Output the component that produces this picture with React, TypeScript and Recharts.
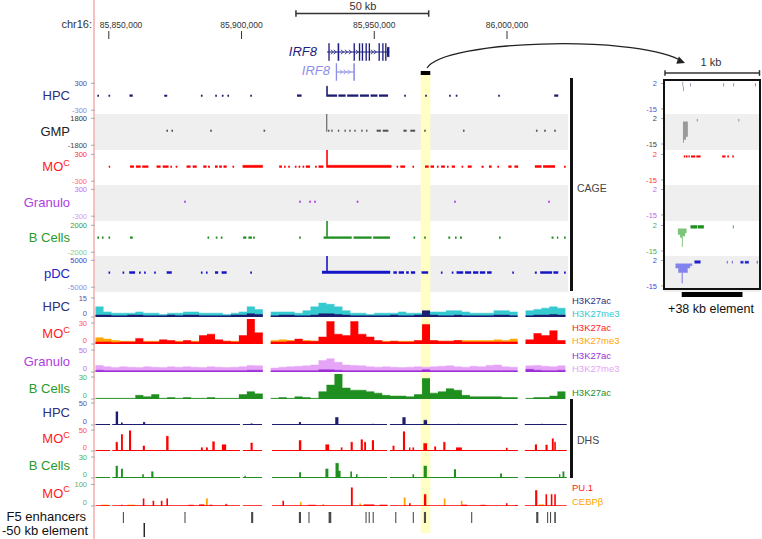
import React from "react";
import { ComposedChart, Area, Line, Scatter, XAxis, YAxis, ReferenceLine, ReferenceArea } from "recharts";

const FONT = "'Liberation Sans', Arial, Helvetica, sans-serif";

// chr16 window on screen, in kb
const WINDOW = [85844.8, 86022.6];
const RULER_TICKS = [85850, 85900, 85950, 86000];
const SCALE_BAR_KB = [85920.5, 85970.5];
const ELEMENT_KB = [85967.5, 85971.1];

// gene models (kb)
const IRF8_TX = [85932.2, 85955.6];
const IRF8_EXONS = [[85932.7, 85933.2, 1], [85936.2, 85936.8, 1], [85942.2, 85942.7, 1], [85944.2, 85944.7, 1], [85945.3, 85945.8, 1], [85946.7, 85947.2, 1], [85947.9, 85948.4, 1], [85951.6, 85952.1, 1], [85953.0, 85953.5, 1], [85954.1, 85954.6, 1], [85954.8, 85955.7, 0.55]];
const IRF8_CHEVRONS = [85934.1, 85935.2, 85937.9, 85939.4, 85940.9, 85943.5, 85949.2, 85950.3];
const IRF8B_TX = [85935.6, 85942.7];
const IRF8B_EXONS = [[85935.5, 85936.0, 1], [85942.1, 85942.7, 1]];
const IRF8B_CHEVRONS = [85937.5, 85939.0, 85940.5];

// CAGE runs: [start kb, end kb, tags]
const CAGE_MAX = [300, 1800, 300, 300, 2000, 5000];
const CAGE_HPC = [[85845.7, 85846.3, 40], [85849.9, 85850.5, 40], [85857.8, 85859.0, 45], [85870.9, 85872.0, 40], [85884.7, 85885.3, 40], [85890.1, 85890.7, 40], [85892.6, 85893.2, 40], [85894.7, 85895.3, 40], [85903.3, 85903.9, 40], [85920.9, 85922.6, 45], [85931.9, 85932.5, 235], [85932.5, 85936.0, 45], [85936.5, 85939.2, 45], [85939.8, 85944.0, 45], [85944.6, 85948.0, 45], [85948.6, 85951.2, 45], [85951.8, 85955.2, 45], [85961.3, 85961.9, 40], [85969.2, 85969.8, 40], [85978.2, 85978.8, 40], [85980.7, 85981.3, 40], [85996.7, 85997.3, 40], [86017.8, 86019.3, 45]];
const CAGE_GMP = [[85871.7, 85872.3, 250], [85873.6, 85874.2, 250], [85888.2, 85888.8, 250], [85908.3, 85908.9, 250], [85931.9, 85932.3, 2400], [85932.6, 85933.1, 250], [85933.8, 85934.3, 250], [85936.3, 85936.8, 250], [85938.8, 85939.3, 250], [85940.6, 85941.1, 250], [85942.5, 85943.0, 250], [85945.1, 85945.6, 250], [85946.9, 85947.4, 250], [85950.9, 85952.5, 250], [85953.2, 85955.3, 250], [85961.0, 85962.2, 250], [85963.6, 85965.4, 250], [85968.8, 85969.4, 250], [85983.4, 85984.0, 250], [86010.9, 86011.5, 250], [86014.0, 86014.6, 250], [86017.8, 86018.4, 250]];
const CAGE_MO = [[85850.0, 85850.5, 40], [85858.0, 85859.5, 45], [85860.2, 85862.0, 45], [85862.6, 85864.9, 45], [85868.0, 85869.5, 45], [85870.3, 85872.5, 45], [85873.2, 85873.8, 40], [85875.2, 85875.8, 40], [85879.3, 85880.8, 45], [85881.6, 85883.1, 45], [85885.6, 85886.8, 45], [85887.4, 85888.1, 40], [85890.0, 85891.0, 45], [85891.6, 85892.6, 45], [85893.2, 85894.4, 45], [85896.6, 85897.2, 40], [85900.4, 85908.0, 55], [85914.2, 85915.2, 45], [85916.0, 85916.6, 40], [85917.6, 85918.2, 40], [85920.1, 85920.7, 40], [85921.5, 85922.1, 40], [85923.0, 85923.6, 40], [85924.2, 85925.8, 45], [85927.7, 85928.3, 40], [85929.0, 85930.8, 45], [85931.9, 85932.5, 400], [85932.5, 85956.5, 55], [85958.4, 85959.0, 40], [85959.8, 85961.6, 45], [85964.4, 85965.0, 40], [85969.1, 85970.5, 45], [85971.2, 85972.5, 45], [85973.6, 85974.2, 40], [85975.2, 85976.6, 45], [85977.4, 85978.0, 40], [85979.2, 85980.4, 45], [85982.9, 85983.5, 40], [85985.2, 85986.7, 45], [85990.4, 85991.2, 40], [85993.2, 85994.2, 45], [85996.4, 85997.0, 40], [86000.5, 86001.7, 45], [86002.8, 86004.2, 45], [86010.5, 86013.0, 50], [86013.6, 86018.1, 50], [86021.5, 86022.1, 40]];
const CAGE_GRAN = [[85878.4, 85879.0, 40], [85921.7, 85922.3, 40], [85925.5, 85926.1, 40], [85927.4, 85928.0, 40], [85943.4, 85944.0, 40], [85980.1, 85980.7, 40], [86015.5, 86016.1, 40]];
const CAGE_B = [[85845.7, 85846.3, 280], [85847.4, 85848.0, 280], [85849.9, 85850.5, 280], [85858.0, 85859.0, 300], [85887.2, 85887.8, 280], [85890.3, 85890.9, 280], [85892.2, 85892.8, 280], [85900.6, 85901.8, 300], [85902.6, 85903.9, 300], [85904.4, 85905.0, 280], [85921.7, 85922.3, 280], [85930.9, 85931.9, 300], [85931.9, 85932.5, 2700], [85932.5, 85941.5, 300], [85942.2, 85949.0, 300], [85949.6, 85955.9, 300], [85964.8, 85965.4, 280], [85968.8, 85969.4, 280], [85977.9, 85978.6, 280], [85980.4, 85981.0, 280], [85982.3, 85983.0, 280], [85997.0, 85997.6, 280], [86016.8, 86017.5, 280], [86018.8, 86019.3, 280], [86021.5, 86022.1, 280]];
const CAGE_PDC = [[85849.9, 85850.5, 700], [85855.2, 85855.8, 700], [85857.7, 85859.9, 800], [85861.4, 85862.0, 700], [85863.3, 85863.9, 700], [85867.1, 85867.7, 700], [85871.8, 85873.7, 800], [85884.7, 85885.3, 700], [85886.6, 85887.2, 700], [85890.0, 85891.2, 800], [85892.5, 85894.4, 800], [85903.3, 85903.9, 700], [85930.3, 85931.9, 1000], [85931.9, 85932.5, 6700], [85932.5, 85956.0, 1000], [85957.2, 85958.5, 800], [85959.2, 85961.2, 800], [85962.0, 85963.0, 800], [85963.8, 85965.4, 800], [85967.8, 85970.3, 800], [85975.1, 85975.7, 700], [85979.2, 85979.8, 700], [85981.0, 85983.5, 800], [85984.2, 85986.5, 800], [85987.2, 85989.2, 800], [85989.8, 85991.8, 800], [85992.5, 85994.2, 800], [86002.0, 86002.6, 700], [86010.5, 86011.2, 700], [86012.5, 86017.0, 800], [86017.5, 86019.3, 800], [86021.5, 86022.1, 700]];

// histone ChIP, 3 kb bins from 85,845 kb (null = no data)
const BIN_START = 85845;
const BIN_KB = 3;
const HPC_ME3 = [8, 4, 3, 3, 3, 4, 3, 3, 2, 3, 3, 4, 4, 3, 3, 3, 2, 3, 4, 8, 6, null, 4, 4, 4, 3, 5, 8, 11, 10, 8, 5, 3, 3, 2, 3, 3, 3, 4, 3, 3, 4, 4, 4, 5, 5, 4, 3, 3, 3, 5, 5, 4, null, 5, 6, 7, 8, 7];
const HPC_AC = [1.5, 1.5, 1, 1, 1.5, 1.5, 1, 1, 1, 1.5, 1, 1.5, 1.5, 1, 1, 1, 1, 1.5, 1.5, 2.5, 2, null, 1, 1.5, 1.5, 1, 1, 1.5, 2.5, 2.5, 2, 1.5, 1, 1, 1, 1, 1, 1.5, 1, 1, 1.5, 5, 1.5, 1, 1, 1.5, 1, 1, 1, 1, 1.5, 1.5, 1, null, 1, 1.5, 1.5, 2, 1.5];
const MO_ME3 = [9, 7, 5, 4, 4, 4, 4, 4, 4, 4, 4, 4, 4, 4, 4, 4, 4, 4, 4, 4, 4, null, 5, 6, 5, 5, 5, 4, 4, 4, 4, 4, 4, 4, 4, 4, 4, 4, 4, 4, 4, 4, 4, 4, 4, 5, 5, 5, 5, 5, 6, 5, 7, null, 4, 4, 4, 4, 4];
const MO_AC = [3, 3, 2, 3, 3, 8, 3, 3, 6, 5, 3, 5, 3, 12, 14, 6, 4, 3, 12, 38, 16, null, 3, 3, 4, 7, 4, 4, 10, 32, 14, 12, 32, 14, 10, 5, 3, 4, 3, 3, 5, 28, 5, 4, 4, 5, 3, 3, 3, 3, 3, 3, 3, null, 6, 15, 12, 19, 5];
const GRAN_ME3 = [15, 12, 10, 12, 11, 10, 12, 11, 10, 12, 11, 12, 11, 10, 12, 11, 10, 11, 12, 15, 14, null, 9, 11, 12, 13, 14, 16, 26, 30, 22, 16, 15, 14, 12, 11, 12, 11, 10, 11, 12, 11, 12, 13, 14, 12, 11, 13, 12, 15, 16, 12, 11, null, 14, 15, 13, 12, 14];
const GRAN_AC = [4, 3, 3, 3, 3, 3, 3, 3, 3, 3, 3, 3, 3, 3, 3, 3, 3, 3, 3, 4, 4, null, 3, 3, 3, 3, 3, 3, 5, 5, 4, 3, 3, 3, 3, 3, 3, 3, 3, 3, 3, 5, 3, 3, 3, 3, 3, 3, 3, 3, 3, 3, 3, null, 6, 4, 3, 3, 4];
const B_AC = [1, 1, 1, 1, 1, 5, 3, 6, 1, 2, 1, 2, 1, 1, 2, 1, 1, 1, 6, 10, 7, null, 1, 2, 1, 3, 2, 1, 10, 19, 38, 15, 12, 12, 10, 8, 5, 4, 4, 3, 6, 28, 8, 10, 14, 12, 5, 3, 3, 3, 3, 2, 2, null, 1, 2, 2, 4, 10];

// DHS / TF peaks: [start kb, end kb, signal]
const COVERED = [[85845.0, 85850.5], [85851.3, 85899.4], [85900.5, 85907.7], [85911.5, 85954.8], [85955.9, 86004.1], [86006.7, 86022.5]];
const DHS_HPC = [[85852.6, 85853.5, 30], [85854.6, 85855.2, 5], [85862.9, 85863.7, 6], [85903.5, 85904.1, 3], [85921.6, 85922.4, 6], [85935.3, 85936.5, 17], [85949.2, 85949.8, 2], [85960.6, 85961.8, 17], [85968.6, 85969.9, 11], [85981.5, 85982.0, 2], [86003.0, 86003.5, 2], [86013.0, 86013.5, 2]];
const DHS_MO = [[85852.6, 85853.4, 21], [85854.6, 85855.3, 39], [85857.6, 85858.4, 48], [85862.8, 85863.6, 12], [85871.6, 85872.5, 35], [85884.7, 85885.4, 8], [85886.6, 85887.3, 8], [85889.0, 85889.9, 22], [85892.6, 85894.2, 15], [85903.4, 85904.2, 19], [85921.6, 85922.5, 25], [85931.6, 85933.0, 15], [85937.4, 85938.0, 8], [85941.1, 85941.9, 21], [85944.9, 85945.7, 27], [85946.2, 85946.9, 21], [85949.1, 85949.9, 25], [85956.9, 85957.6, 12], [85960.8, 85961.6, 46], [85963.1, 85963.6, 8], [85964.4, 85965.0, 8], [85968.5, 85969.9, 18], [85972.6, 85973.3, 10], [85976.0, 85976.8, 21], [85980.8, 85983.0, 8], [85999.6, 86000.2, 7], [86010.5, 86011.3, 15], [86014.5, 86015.3, 14], [86016.9, 86017.6, 29], [86017.8, 86018.4, 21]];
const DHS_B = [[85852.6, 85853.4, 17], [85854.6, 85855.3, 13], [85862.6, 85863.2, 5], [85866.0, 85866.8, 9], [85901.1, 85901.6, 3], [85921.7, 85922.4, 8], [85931.6, 85932.7, 13], [85935.4, 85936.6, 21], [85936.6, 85937.3, 10], [85941.0, 85941.6, 9], [85943.1, 85943.7, 5], [85964.4, 85965.0, 5], [85968.6, 85969.8, 17], [85980.0, 85980.8, 12], [85997.4, 85998.1, 6], [86019.6, 86020.1, 5], [86020.9, 86021.6, 9]];
const PU1_MO = [[85854.7, 85855.2, 5], [85862.8, 85863.4, 34], [85866.5, 85867.1, 23], [85869.6, 85870.2, 23], [85871.7, 85872.3, 34], [85880.0, 85882.0, 4], [85884.0, 85886.0, 6], [85888.0, 85889.0, 5], [85893.9, 85894.6, 8], [85915.4, 85916.0, 23], [85925.0, 85928.0, 4], [85941.2, 85941.9, 85], [85946.0, 85950.0, 6], [85952.0, 85955.0, 5], [85963.1, 85963.7, 12], [85968.7, 85969.6, 54], [85983.0, 85985.0, 5], [85990.0, 85992.0, 4], [85999.6, 86000.2, 12], [86003.0, 86004.0, 3], [86010.6, 86011.4, 72], [86014.5, 86015.1, 54], [86016.5, 86017.1, 54], [86017.8, 86018.4, 54]];
const CEBPB_MO = [[85847.0, 85850.0, 5], [85857.0, 85860.0, 5], [85886.6, 85887.3, 34], [85922.0, 85922.6, 18], [85930.5, 85931.1, 8], [85944.4, 85945.0, 10], [85961.1, 85961.8, 38], [85976.2, 85976.8, 34], [85982.6, 85983.2, 23], [86012.0, 86014.0, 6]];

const F5_ENHANCERS = [[85855.3, 85855.7], [85878.5, 85878.9], [85903.6, 85904.4], [85921.6, 85922.4], [85925.2, 85925.6], [85932.8, 85933.8], [85946.7, 85947.1], [85947.9, 85948.3], [85949.4, 85949.8], [85957.9, 85958.3], [85964.5, 85964.9], [85968.7, 85969.5], [85986.5, 85986.9], [86011.0, 86011.8], [86015.1, 86015.5], [86016.2, 86016.6], [86017.8, 86018.4]];
const MINUS50_ELEMENT = [[85863.1, 85863.6]];

// +38 kb element close-up, bp within 1 kb
const INSET_DOMAIN = [0, 1000];
const INSET_BAR = [177, 820];
const INSET_HPC = [[186, 192, 3], [192, 198, -3], [266, 273, 2], [618, 625, 2], [724, 731, 2], [952, 960, 2]];
const INSET_GMP = [[190, 200, -14], [200, 222, -12], [222, 242, -10], [337, 344, 1.5], [778, 785, 1.5]];
const INSET_MO = [[199, 215, 1.2], [222, 238, 1.2], [248, 262, 1.2], [275, 320, 1.2], [332, 376, 1.2], [605, 640, 1.2], [660, 676, 1.2], [712, 728, 1.2]];
const INSET_GRAN: number[][] = [];
const INSET_B = [[136, 160, -4], [160, 178, -6], [178, 188, -12], [188, 212, -5], [212, 228, -3], [270, 340, 2], [346, 411, 2], [718, 726, 2]];
const INSET_PDC = [[111, 140, -3], [140, 176, -6], [176, 188, -13], [188, 240, -6], [240, 265, -3], [265, 288, -1.5], [312, 376, 1.8], [655, 662, 1.5], [708, 715, 1.5], [799, 830, 1.5], [845, 887, 1.5], [972, 980, 1.5]];

// ---------- layout ----------
const PLOT_LEFT = 95;
const PLOT_W = 472;
const INSET_LEFT = 664.5;
const INSET_W = 94.5;
const CAGE_TOP = 78.5;
const CAGE_H = 35.5;
const TRACK_H = 25;

function runRows(runs: number[][], key: string, sign = 0) {
  const rows: any[] = [];
  runs.forEach(([s, e, v = 1]) => {
    if (sign > 0 && v < 0) return;
    if (sign < 0 && v >= 0) return;
    rows.push({ pos: s, [key]: v }, { pos: e, [key]: v }, { pos: e, [key]: null });
  });
  return rows;
}

// each 3 kb bin becomes one block
function binRuns(values: (number | null)[]) {
  const runs: number[][] = [];
  values.forEach((v, i) => {
    if (v != null) runs.push([BIN_START + BIN_KB * i, BIN_START + BIN_KB * (i + 1), v]);
  });
  return runs;
}

const frameRows = (d: number[]) => [{ pos: d[0] }, { pos: d[1] }];
const fmtBp = (v: number) => Math.round(v * 1000).toLocaleString("en-US");

function tickRenderer(colors: Record<string, string>, size = 7.5, zeroLift = 0) {
  return (props: any) => {
    const { x, y, payload } = props;
    const lift = payload.value === 0 ? zeroLift : 0;
    return (
      <text x={x} y={y - lift} dy={size * 0.35} textAnchor="end" fontSize={size} fontFamily={FONT} fill={colors[String(payload.value)] || "#555"}>
        {payload.value}
      </text>
    );
  };
}

function rulerTick(props: any) {
  const { x, y, payload } = props;
  const first = payload.value === RULER_TICKS[0];
  return (
    <text x={first ? x - 9 : x} y={y} textAnchor={first ? "start" : "middle"} fontSize={8.5} fill="#333" fontFamily={FONT}>
      {fmtBp(payload.value)}
    </text>
  );
}

function Chart(props: any) {
  const { left, top, width, height, padBottom = 0, xDomain = WINDOW, yDomain = [0, 1], ticks, tickColors = {}, yw = 40, data, children, margin = 0, zeroLift = 0 } = props;
  const w = ticks ? yw : 0;
  return (
    <div style={{ position: "absolute", left: left - w - margin, top }}>
      <ComposedChart width={w + width + 2 * margin} height={height + padBottom} data={data || frameRows(xDomain)} margin={{ top: 0, right: margin, bottom: padBottom, left: margin }}>
        <XAxis type="number" dataKey="pos" domain={xDomain} allowDataOverflow hide />
        {ticks ? (
          <YAxis type="number" domain={yDomain} allowDataOverflow ticks={ticks} interval={0} width={yw} axisLine={false} tickLine={{ stroke: "#aaa" }} tickSize={4} tickMargin={4} tick={tickRenderer(tickColors, 7.5, zeroLift)} />
        ) : (
          <YAxis type="number" domain={yDomain} allowDataOverflow hide />
        )}
        {children}
      </ComposedChart>
    </div>
  );
}

function Label({ x, y, text, color = "#222", size = 13, align = "right", sup, italic }: any) {
  const style: any = {
    position: "absolute",
    top: y - size * 0.6,
    fontSize: size,
    lineHeight: `${size * 1.2}px`,
    color,
    whiteSpace: "nowrap",
    fontFamily: FONT,
    fontStyle: italic ? "italic" : "normal",
  };
  if (align === "right") style.right = 762 - x;
  else if (align === "center") {
    style.left = x;
    style.transform = "translateX(-50%)";
  } else style.left = x;
  return (
    <div style={style}>
      {text}
      {sup ? <span style={{ fontSize: size * 0.72, position: "relative", top: -size * 0.42 }}>{sup}</span> : null}
    </div>
  );
}

const area = (key: string, fill: string) => (
  <Area key={key} dataKey={key} type="linear" fill={fill} fillOpacity={1} stroke={fill} strokeWidth={0.5} baseValue={0} dot={false} activeDot={false} isAnimationActive={false} />
);

const baseline = (key: string, color: string) => (
  <Line key={key} dataKey={key} type="linear" stroke={color} strokeWidth={1.5} dot={false} activeDot={false} isAnimationActive={false} />
);

const CAGE_TRACKS = [
  { label: "HPC", color: "#2e2e7e", fill: "#1c1c70", runs: CAGE_HPC, tick: ["#4a4a9e", "#8a8ad6"] },
  { label: "GMP", color: "#222", fill: "#555", runs: CAGE_GMP, tick: ["#333", "#444"] },
  { label: "MO", sup: "C", color: "#ff1a1a", fill: "#ff0000", runs: CAGE_MO, tick: ["#ff3333", "#ff6b6b"] },
  { label: "Granulo", color: "#b03de0", fill: "#b030e8", runs: CAGE_GRAN, tick: ["#c070f0", "#d49af2"] },
  { label: "B Cells", color: "#2a9a2a", fill: "#1f8f1f", runs: CAGE_B, tick: ["#3a9a3a", "#86cc86"] },
  { label: "pDC", color: "#2323c8", fill: "#1515c8", runs: CAGE_PDC, tick: ["#4040cc", "#8c8ce6"] },
];

const HIST_TRACKS = [
  { label: "HPC", color: "#2e2e7e", y0: 317, ytick: 298, max: 15, tick: "#5555a5", series: [{ bins: HPC_ME3, fill: "#35c9d0" }, { bins: HPC_AC, fill: "#1c1c70" }] },
  { label: "MO", sup: "C", color: "#ff1a1a", y0: 344, ytick: 323, max: 30, tick: "#ff5050", series: [{ bins: MO_ME3, fill: "#ffa500" }, { bins: MO_AC, fill: "#ff0000" }] },
  { label: "Granulo", color: "#b03de0", y0: 372, ytick: 350, max: 50, tick: "#c070f0", series: [{ bins: GRAN_ME3, fill: "#e6a4f6" }, { bins: GRAN_AC, fill: "#9a2fd6" }] },
  { label: "B Cells", color: "#2a9a2a", y0: 399, ytick: 377, max: 30, tick: "#4caf4c", series: [{ bins: B_AC, fill: "#1f8f1f" }] },
];

const PEAK_TRACKS = [
  { label: "HPC", color: "#2e2e7e", y0: 425, ytick: 403, max: 50, tick: "#5555a5", series: [{ runs: DHS_HPC, fill: "#1c1c70" }] },
  { label: "MO", sup: "C", color: "#ff1a1a", y0: 451, ytick: 430, max: 50, tick: "#ff5050", series: [{ runs: DHS_MO, fill: "#ff0000" }] },
  { label: "B Cells", color: "#2a9a2a", y0: 478, ytick: 457, max: 30, tick: "#4caf4c", series: [{ runs: DHS_B, fill: "#1f8f1f" }] },
  { label: "MO", sup: "C", color: "#ff1a1a", y0: 505.5, ytick: 484, max: 100, tick: "#6aaa6a", series: [{ runs: CEBPB_MO, fill: "#ffa500" }, { runs: PU1_MO, fill: "#ff0000" }] },
];

const INSET_TRACKS = [
  { runs: INSET_HPC, pos: "#6a6a8a", neg: "#6a6a8a", tick: "#5555cc" },
  { runs: INSET_GMP, pos: "#666", neg: "#9a9a9a", tick: "#444" },
  { runs: INSET_MO, pos: "#ff0000", neg: "#ff8080", tick: "#ff3333" },
  { runs: INSET_GRAN, pos: "#b030e8", neg: "#d49af2", tick: "#c060f0" },
  { runs: INSET_B, pos: "#1f8f1f", neg: "#7cc47c", tick: "#4caf4c" },
  { runs: INSET_PDC, pos: "#1f1fcc", neg: "#8383ee", tick: "#4444dd" },
];

const RIGHT_LABELS = [
  { text: "H3K27ac", y: 301, color: "#2e2e7e" },
  { text: "H3K27me3", y: 314, color: "#35c9d0" },
  { text: "H3K27ac", y: 328, color: "#ff1a1a" },
  { text: "H3K27me3", y: 341, color: "#ffa500" },
  { text: "H3K27ac", y: 356, color: "#9a2fd6" },
  { text: "H3K27me3", y: 369, color: "#e6a4f6" },
  { text: "H3K27ac", y: 393, color: "#1f8f1f" },
  { text: "PU.1", y: 488, color: "#ff1a1a" },
  { text: "CEBPβ", y: 502, color: "#ffa500" },
];

const chevron = (color: string) => (p: any) => (
  <path d={`M${p.cx - 1.3},${p.cy - 2.2}L${p.cx + 1.3},${p.cy}L${p.cx - 1.3},${p.cy + 2.2}`} stroke={color} strokeWidth={0.8} fill="none" />
);

function GeneChart({ top, tx, exons, chevrons, color }: any) {
  const rows = [...runRows(exons, "up"), ...runRows(exons.map(([s, e, v]: number[]) => [s, e, -v]), "dn")];
  return (
    <Chart left={PLOT_LEFT} top={top} width={PLOT_W} height={18} yDomain={[-1.05, 1.05]} data={rows}>
      <ReferenceLine segment={[{ x: tx[0], y: 0 }, { x: tx[1], y: 0 }]} stroke={color} strokeWidth={1.2} />
      {area("up", color)}
      {area("dn", color)}
      <Scatter data={chevrons.map((p: number) => ({ pos: p, y: 0 }))} dataKey="y" shape={chevron(color)} isAnimationActive={false} />
    </Chart>
  );
}

export default function App() {
  const insetY = [-18.67, 5];
  const coveredRuns = COVERED.map(([s, e]) => [s, e, 0.3]);
  return (
    <div style={{ position: "absolute", left: 0, top: 0, width: 762, height: 539, background: "#fff", overflow: "hidden", fontFamily: FONT }}>
      {CAGE_TRACKS.map((t, k) =>
        k % 2 === 1 ? (
          <React.Fragment key={"band" + k}>
            <div style={{ position: "absolute", left: PLOT_LEFT, top: CAGE_TOP + k * CAGE_H, width: 473, height: CAGE_H, background: "#efefef" }} />
            <div style={{ position: "absolute", left: INSET_LEFT - 1, top: CAGE_TOP + k * CAGE_H, width: INSET_W + 2, height: CAGE_H, background: "#efefef" }} />
          </React.Fragment>
        ) : null
      )}

      {/* highlighted +38 kb element */}
      <Chart left={PLOT_LEFT} top={75} width={PLOT_W} height={458}>
        <ReferenceArea x1={ELEMENT_KB[0]} x2={ELEMENT_KB[1]} fill="#ffffc4" fillOpacity={1} stroke="none" />
      </Chart>

      <div style={{ position: "absolute", left: 93, top: 0, width: 2, height: 539, background: "#f7c1c1" }} />

      {/* ruler */}
      <div style={{ position: "absolute", left: PLOT_LEFT - 40, top: 0 }}>
        <ComposedChart width={PLOT_W + 80} height={41} data={frameRows(WINDOW)} margin={{ top: 0, right: 40, bottom: 0, left: 40 }}>
          <XAxis
            type="number"
            dataKey="pos"
            domain={WINDOW}
            allowDataOverflow
            orientation="top"
            height={39}
            ticks={RULER_TICKS}
            interval={0}
            tickSize={8}
            tickMargin={3}
            axisLine={false}
            tickLine={{ stroke: "#333" }}
            tick={rulerTick}
          />
          <YAxis hide domain={[0, 1]} />
        </ComposedChart>
      </div>
      <Label x={92} y={25} text="chr16:" size={11} color="#333" />
      <Label x={363} y={6.5} text="50 kb" size={11} color="#333" align="center" />
      <Chart left={PLOT_LEFT} top={9} width={PLOT_W} height={9} yDomain={[-1.4, 1.4]}>
        <ReferenceLine segment={[{ x: SCALE_BAR_KB[0], y: 0 }, { x: SCALE_BAR_KB[1], y: 0 }]} stroke="#333" strokeWidth={1.5} />
        <ReferenceLine segment={[{ x: SCALE_BAR_KB[0], y: -1 }, { x: SCALE_BAR_KB[0], y: 1 }]} stroke="#333" strokeWidth={1.5} />
        <ReferenceLine segment={[{ x: SCALE_BAR_KB[1], y: -1 }, { x: SCALE_BAR_KB[1], y: 1 }]} stroke="#333" strokeWidth={1.5} />
      </Chart>

      {/* genes */}
      <GeneChart top={43} tx={IRF8_TX} exons={IRF8_EXONS} chevrons={IRF8_CHEVRONS} color="#1d1d80" />
      <Label x={317} y={52} text="IRF8" size={13} color="#1d1d80" italic />
      <GeneChart top={63} tx={IRF8B_TX} exons={IRF8B_EXONS} chevrons={IRF8B_CHEVRONS} color="#8f8fe6" />
      <Label x={330} y={71} text="IRF8" size={13} color="#8f8fe6" italic />
      <Chart left={PLOT_LEFT} top={70.5} width={PLOT_W} height={4}>
        <ReferenceArea x1={ELEMENT_KB[0]} x2={ELEMENT_KB[1]} fill="#000" fillOpacity={1} stroke="none" />
      </Chart>

      {/* CAGE */}
      {CAGE_TRACKS.map((t, k) => {
        const max = CAGE_MAX[k];
        const d = (max * CAGE_H) / 2 / 13.45;
        return (
          <React.Fragment key={"cage" + k}>
            <Chart
              left={PLOT_LEFT}
              top={CAGE_TOP + k * CAGE_H}
              width={PLOT_W}
              height={CAGE_H}
              yDomain={[-d, d]}
              ticks={[-max, max]}
              tickColors={{ [String(max)]: t.tick[0], [String(-max)]: t.tick[1] }}
              data={runRows(t.runs, "v")}
            >
              {area("v", t.fill)}
            </Chart>
            <Label x={70} y={CAGE_TOP + k * CAGE_H + CAGE_H / 2} text={t.label} sup={t.sup} color={t.color} />
          </React.Fragment>
        );
      })}
      <div style={{ position: "absolute", left: 570, top: 78, width: 3, height: 213, background: "#111" }} />
      <Label x={577} y={188} text="CAGE" size={10.5} color="#444" align="left" />

      {/* histone marks */}
      {HIST_TRACKS.map((t, k) => (
        <React.Fragment key={"hist" + k}>
          <Chart
            left={PLOT_LEFT}
            top={t.y0 - TRACK_H}
            width={PLOT_W}
            height={TRACK_H}
            padBottom={5}
            yDomain={[0, (t.max * TRACK_H) / (t.y0 - t.ytick)]}
            ticks={[0, t.max]}
            zeroLift={3.5}
            tickColors={{ "0": t.tick, [String(t.max)]: t.tick }}
            data={t.series.flatMap((s, j) => runRows(binRuns(s.bins), "h" + j))}
          >
            {t.series.map((s, j) => area("h" + j, s.fill))}
          </Chart>
          <Label x={70} y={t.y0 - 10} text={t.label} sup={t.sup} color={t.color} />
        </React.Fragment>
      ))}

      {/* DHS and TF peaks */}
      {PEAK_TRACKS.map((t, k) => {
        const rows = [...runRows(coveredRuns, "base"), ...t.series.flatMap((s, j) => runRows(s.runs, "s" + j))];
        return (
          <React.Fragment key={"peak" + k}>
            <Chart
              left={PLOT_LEFT}
              top={t.y0 - TRACK_H}
              width={PLOT_W}
              height={TRACK_H}
              padBottom={5}
              yDomain={[0, (t.max * TRACK_H) / (t.y0 - t.ytick)]}
              ticks={[0, t.max]}
              zeroLift={3.5}
              tickColors={{ "0": t.tick, [String(t.max)]: t.tick }}
              data={rows}
            >
              {baseline("base", t.series[t.series.length - 1].fill)}
              {t.series.map((s, j) => area("s" + j, s.fill))}
            </Chart>
            <Label x={70} y={t.y0 - 12} text={t.label} sup={t.sup} color={t.color} />
          </React.Fragment>
        );
      })}
      <div style={{ position: "absolute", left: 570, top: 399, width: 3, height: 79, background: "#111" }} />
      <Label x={577} y={440} text="DHS" size={10.5} color="#444" align="left" />
      {RIGHT_LABELS.map((l, i) => (
        <Label key={"rl" + i} x={572} y={l.y} text={l.text} size={9.5} color={l.color} align="left" />
      ))}

      {/* enhancer annotations */}
      <Chart left={PLOT_LEFT} top={511.5} width={PLOT_W} height={11} data={runRows(F5_ENHANCERS, "v")}>
        {area("v", "#4a4a4a")}
      </Chart>
      <Chart left={PLOT_LEFT} top={523} width={PLOT_W} height={14} data={runRows(MINUS50_ELEMENT, "v")}>
        {area("v", "#111")}
      </Chart>
      <Label x={86} y={517} text="F5 enhancers" size={13} color="#111" />
      <Label x={88} y={531} text="-50 kb element" size={13} color="#111" />

      {/* inset: 1 kb around the +38 kb element */}
      <Label x={711} y={63} text="1 kb" size={11} color="#333" align="center" />
      <Chart left={INSET_LEFT} top={69} width={INSET_W} height={8} xDomain={INSET_DOMAIN} yDomain={[-1.4, 1.4]} margin={2}>
        <ReferenceLine segment={[{ x: INSET_DOMAIN[0], y: 0 }, { x: INSET_DOMAIN[1], y: 0 }]} stroke="#333" strokeWidth={1.5} />
        <ReferenceLine segment={[{ x: INSET_DOMAIN[0], y: -1 }, { x: INSET_DOMAIN[0], y: 1 }]} stroke="#333" strokeWidth={1.5} />
        <ReferenceLine segment={[{ x: INSET_DOMAIN[1], y: -1 }, { x: INSET_DOMAIN[1], y: 1 }]} stroke="#333" strokeWidth={1.5} />
      </Chart>
      {INSET_TRACKS.map((t, k) => (
        <Chart
          key={"inset" + k}
          left={INSET_LEFT}
          top={CAGE_TOP + k * CAGE_H}
          width={INSET_W}
          height={CAGE_H}
          xDomain={INSET_DOMAIN}
          yDomain={insetY}
          ticks={[-15, 2]}
          yw={30}
          tickColors={{ "2": t.tick, "-15": t.tick }}
          data={[...runRows(t.runs, "p", 1), ...runRows(t.runs, "n", -1)]}
        >
          {area("p", t.pos)}
          {area("n", t.neg)}
        </Chart>
      ))}
      <div style={{ position: "absolute", left: 662.5, top: 79, width: 98.5, height: 211, border: "2px solid #111", boxSizing: "border-box" }} />
      <Chart left={INSET_LEFT} top={292} width={INSET_W} height={5} xDomain={INSET_DOMAIN}>
        <ReferenceArea x1={INSET_BAR[0]} x2={INSET_BAR[1]} fill="#000" fillOpacity={1} stroke="none" />
      </Chart>
      <Label x={711} y={309} text="+38 kb element" size={12.5} color="#111" align="center" />

      <svg width={762} height={539} style={{ position: "absolute", left: 0, top: 0, pointerEvents: "none" }}>
        <path d="M427,68 C445,40 630,35 679,59.5" stroke="#222" strokeWidth={1.3} fill="none" />
        <polygon points="685,63 676.3,63.8 678.9,56.6" fill="#222" />
      </svg>
    </div>
  );
}
